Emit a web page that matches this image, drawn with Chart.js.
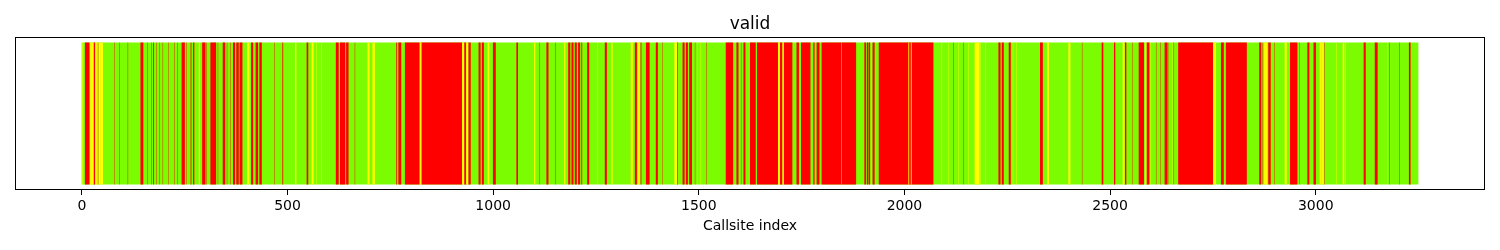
<!DOCTYPE html>
<html>
<head>
<meta charset="utf-8">
<script src="https://cdn.jsdelivr.net/npm/chart.js@4.4.1/dist/chart.umd.min.js"></script>
<style>
  html, body { margin: 0; padding: 0; background: #fff; }
  #wrap { width: 1500px; height: 250px; }
</style>
</head>
<body>
<div id="wrap"><canvas id="chart"></canvas></div>
<script>
// one row, callsites 0..3249, each one coloured by status
const categories = ["valid"];
const callsiteCount = 3250;
const xTicks = [0, 500, 1000, 1500, 2000, 2500, 3000];

// runs of callsite indices (inclusive); everything else is green
const redRuns = [
  [8, 18], [29, 32], 41, 79, 92, 112, [143, 149], 160, 169, [174, 175], 181, 189, 197, 211, 225, 233, [243, 250], 254, 264,
  266, [271, 273], [293, 300], 303, [313, 326], 331, [343, 348], 353, 361, [368, 372], [376, 381], [384, 390],
  [412, 416], [423, 428], [432, 437], 469, [488, 489],
  [547, 550], [618, 624], [628, 640], [643, 648], 664, [765, 766], [770, 776], [786, 821],
  [826, 924], [930, 934], [940, 945], [965, 969], [973, 977], [1000, 1006], [1057, 1060],
  1112, [1130, 1134], 1152, [1183, 1187], [1191, 1195], [1199, 1203], [1207, 1211], [1215, 1216], [1229, 1233],
  [1272, 1276], [1345, 1349],
  [1359, 1360], [1372, 1380], [1396, 1400], 1412, [1448, 1449], [1461, 1465], [1469, 1473], [1477, 1483], 1491, 1519,
  [1566, 1583], [1592, 1596], 1603, [1609, 1613], [1625, 1638], [1642, 1692], [1698, 1703], [1707, 1727],
  [1738, 1743], [1749, 1771], [1779, 1781], [1787, 1793], [1799, 1882],
  [1903, 1906], [1909, 1912], [1914, 1916], [1923, 1927], [1938, 2070], 2119, 2143,
  [2229, 2233], [2237, 2241], [2254, 2258], [2330, 2336], 2432,
  [2480, 2483], [2510, 2512], [2536, 2539], 2554, [2570, 2582], [2589, 2595], 2612, 2623, [2633, 2638], [2640, 2641],
  2655, [2666, 2750], [2770, 2776], [2782, 2832], [2863, 2867], 2871, [2885, 2890], 2899, [2938, 2955], 2961,
  [2980, 2984], [2995, 3000], 3022, [3117, 3121], [3144, 3150], 3180, 3204, [3227, 3230]
];
const yellowRuns = [
  [2, 3], [21, 28], [33, 37], 40, [42, 44], [45, 51], [285, 287], [402, 407], [519, 521],
  [559, 563], 571, 582, [695, 699], [707, 712], [822, 825], [925, 929], [935, 939], [987, 990],
  [1100, 1102], [1173, 1175], 1254, [1288, 1290], [1335, 1339], [1352, 1356], [1441, 1447], 1497, 1505,
  [1693, 1697], [1704, 1706], 1847, 1919, [2010, 2011], [2016, 2017], 2091, 2108, 2131, 2156, [2171, 2182],
  2185, 2197, 2264, 2272, [2347, 2351], [2399, 2403], [2531, 2535], [2585, 2588], 2599, 2651,
  [2751, 2757], [2875, 2882], [2925, 2929], [3010, 3014], [3016, 3019], 3050, [3066, 3069], 3073, 3175
];
const greenRuns = [[0, callsiteCount - 1]];

function toBars(runs) {
  return runs.map(r => {
    const [a, b] = Array.isArray(r) ? r : [r, r];
    return { x: [a - 0.5, b + 0.5], y: categories[0] };
  });
}

// matplotlib-style frame round the plot area
const boxPlugin = {
  id: "box",
  afterDatasetsDraw(chart) {
    const { ctx, chartArea: a } = chart;
    ctx.save();
    ctx.strokeStyle = "#000";
    ctx.lineWidth = 1;
    ctx.strokeRect(Math.round(a.left) + 0.5, Math.round(a.top) + 0.5,
      Math.round(a.right - a.left) - 1, Math.round(a.bottom - a.top) - 1);
    ctx.restore();
  }
};

Chart.defaults.font.family = "'DejaVu Sans', sans-serif";
Chart.defaults.color = "#000";

new Chart(document.getElementById("chart"), {
  type: "bar",
  data: {
    labels: categories,
    datasets: [
      { label: "yellow", data: toBars(yellowRuns), backgroundColor: "#ffff00" },
      { label: "red", data: toBars(redRuns), backgroundColor: "#ff0000" },
      { label: "green", data: toBars(greenRuns), backgroundColor: "#7cfc00" }
    ]
  },
  options: {
    indexAxis: "y",
    responsive: true,
    maintainAspectRatio: false,
    animation: false,
    grouped: false,
    categoryPercentage: 1,
    barPercentage: 0.928,
    inflateAmount: 0,
    borderWidth: 0,
    layout: { padding: { left: 15, right: 15, top: 0, bottom: 0 } },
    plugins: {
      legend: { display: false },
      tooltip: { enabled: false },
      title: {
        display: true,
        text: "valid",
        color: "#000",
        font: { size: 17, weight: "normal" },
        padding: { top: 14, bottom: 2.6 }
      }
    },
    scales: {
      y: { display: false },
      x: {
        type: "linear",
        min: -162.5,
        max: 3411.5,
        afterBuildTicks: s => { s.ticks = xTicks.map(v => ({ value: v })); },
        afterFit: s => { s.height = 60; },
        grid: { drawOnChartArea: false, drawTicks: true, tickLength: 5, color: "#000", tickWidth: 1 },
        border: { display: false },
        ticks: { font: { size: 14 }, padding: 3, maxRotation: 0, callback: v => String(v) },
        title: {
          display: true,
          text: "Callsite index",
          font: { size: 14 },
          padding: { top: 4, bottom: 15 }
        }
      }
    }
  },
  plugins: [boxPlugin]
});
</script>
</body>
</html>
